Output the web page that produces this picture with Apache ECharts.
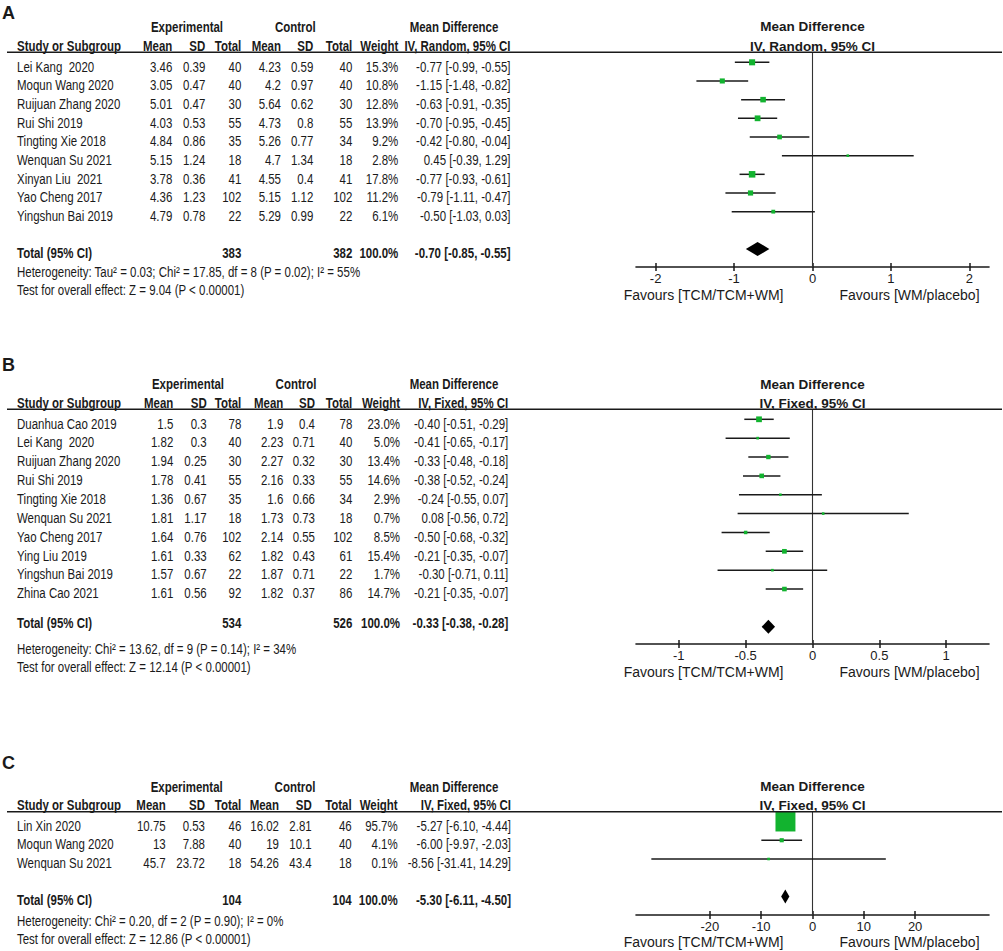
<!DOCTYPE html>
<html><head><meta charset="utf-8">
<script src="https://cdn.jsdelivr.net/npm/echarts@6/dist/echarts.min.js"></script>
<style>html,body{margin:0;padding:0;background:#fff}#c{width:1003px;height:951px}</style>
</head><body><div id="c"></div>
<script>
// ---------------- Panel A data ----------------
const studiesA = ['Lei Kang \u00a02020','Moqun Wang 2020','Ruijuan Zhang 2020','Rui Shi 2019','Tingting Xie 2018','Wenquan Su 2021','Xinyan Liu \u00a02021','Yao Cheng 2017','Yingshun Bai 2019'];
const expMeanA = [3.46,3.05,5.01,4.03,4.84,5.15,3.78,4.36,4.79];
const expSdA   = [0.39,0.47,0.47,0.53,0.86,1.24,0.36,1.23,0.78];
const expNA    = [40,40,30,55,35,18,41,102,22];
const ctlMeanA = [4.23,4.2,5.64,4.73,5.26,4.7,4.55,5.15,5.29];
const ctlSdA   = [0.59,0.97,0.62,0.8,0.77,1.34,0.4,1.12,0.99];
const ctlNA    = [40,40,30,55,34,18,41,102,22];
const weightA  = [15.3,10.8,12.8,13.9,9.2,2.8,17.8,11.2,6.1];
const mdA      = [-0.77,-1.15,-0.63,-0.70,-0.42,0.45,-0.77,-0.79,-0.50];
const loA      = [-0.99,-1.48,-0.91,-0.95,-0.80,-0.39,-0.93,-1.11,-1.03];
const hiA      = [-0.55,-0.82,-0.35,-0.45,-0.04,1.29,-0.61,-0.47,0.03];
const totalA   = {expN:383, ctlN:382, weight:100.0, md:-0.70, lo:-0.85, hi:-0.55};
const methodA  = 'IV, Random, 95% CI';
const heteroA  = 'Heterogeneity: Tau\u00b2 = 0.03; Chi\u00b2 = 17.85, df = 8 (P = 0.02); I\u00b2 = 55%';
const testA    = 'Test for overall effect: Z = 9.04 (P < 0.00001)';
const ticksA   = [-2,-1,0,1,2];

// ---------------- Panel B data ----------------
const studiesB = ['Duanhua Cao 2019','Lei Kang \u00a02020','Ruijuan Zhang 2020','Rui Shi 2019','Tingting Xie 2018','Wenquan Su 2021','Yao Cheng 2017','Ying Liu 2019','Yingshun Bai 2019','Zhina Cao 2021'];
const expMeanB = [1.5,1.82,1.94,1.78,1.36,1.81,1.64,1.61,1.57,1.61];
const expSdB   = [0.3,0.3,0.25,0.41,0.67,1.17,0.76,0.33,0.67,0.56];
const expNB    = [78,40,30,55,35,18,102,62,22,92];
const ctlMeanB = [1.9,2.23,2.27,2.16,1.6,1.73,2.14,1.82,1.87,1.82];
const ctlSdB   = [0.4,0.71,0.32,0.33,0.66,0.73,0.55,0.43,0.71,0.37];
const ctlNB    = [78,40,30,55,34,18,102,61,22,86];
const weightB  = [23.0,5.0,13.4,14.6,2.9,0.7,8.5,15.4,1.7,14.7];
const mdB      = [-0.40,-0.41,-0.33,-0.38,-0.24,0.08,-0.50,-0.21,-0.30,-0.21];
const loB      = [-0.51,-0.65,-0.48,-0.52,-0.55,-0.56,-0.68,-0.35,-0.71,-0.35];
const hiB      = [-0.29,-0.17,-0.18,-0.24,0.07,0.72,-0.32,-0.07,0.11,-0.07];
const totalB   = {expN:534, ctlN:526, weight:100.0, md:-0.33, lo:-0.38, hi:-0.28};
const methodB  = 'IV, Fixed, 95% CI';
const heteroB  = 'Heterogeneity: Chi\u00b2 = 13.62, df = 9 (P = 0.14); I\u00b2 = 34%';
const testB    = 'Test for overall effect: Z = 12.14 (P < 0.00001)';
const ticksB   = [-1,-0.5,0,0.5,1];

// ---------------- Panel C data ----------------
const studiesC = ['Lin Xin 2020','Moqun Wang 2020','Wenquan Su 2021'];
const expMeanC = [10.75,13,45.7];
const expSdC   = [0.53,7.88,23.72];
const expNC    = [46,40,18];
const ctlMeanC = [16.02,19,54.26];
const ctlSdC   = [2.81,10.1,43.4];
const ctlNC    = [46,40,18];
const weightC  = [95.7,4.1,0.1];
const mdC      = [-5.27,-6.00,-8.56];
const loC      = [-6.10,-9.97,-31.41];
const hiC      = [-4.44,-2.03,14.29];
const totalC   = {expN:104, ctlN:104, weight:100.0, md:-5.30, lo:-6.11, hi:-4.50};
const methodC  = 'IV, Fixed, 95% CI';
const heteroC  = 'Heterogeneity: Chi\u00b2 = 0.20, df = 2 (P = 0.90); I\u00b2 = 0%';
const testC    = 'Test for overall effect: Z = 12.86 (P < 0.00001)';
const ticksC   = [-20,-10,0,10,20];

const favLeft  = 'Favours [TCM/TCM+WM]';
const favRight = 'Favours [WM/placebo]';
</script>
<script>
// ---------- font handling ----------
function fontAvailable(name){
  const ctx = document.createElement('canvas').getContext('2d');
  const s = 'abcdefghijklmnopqrstuvwxyz0123456789WMi';
  return ['monospace','serif'].every(function(fb){
    ctx.font = '32px ' + fb; const a = ctx.measureText(s).width;
    ctx.font = '32px "' + name + '", ' + fb; const b = ctx.measureText(s).width;
    return a !== b;
  });
}
const NARROW_OK = fontAvailable('Liberation Sans Narrow');
const WF = '"Liberation Sans", Arial, sans-serif';
const NF = NARROW_OK ? '"Liberation Sans Narrow", "Arial Narrow", sans-serif' : WF;
const NSX = NARROW_OK ? 1 : 0.82;
const INK = '#1a1a1a';
const GREEN = '#12b32f';

// ---------- panel assembly ----------
const panels = [
  { label:'A', studies:studiesA, expMean:expMeanA, expSd:expSdA, expN:expNA, ctlMean:ctlMeanA, ctlSd:ctlSdA, ctlN:ctlNA,
    weight:weightA, md:mdA, lo:loA, hi:hiA, total:totalA, method:methodA, hetero:heteroA, test:testA, ticks:ticksA },
  { label:'B', studies:studiesB, expMean:expMeanB, expSd:expSdB, expN:expNB, ctlMean:ctlMeanB, ctlSd:ctlSdB, ctlN:ctlNB,
    weight:weightB, md:mdB, lo:loB, hi:hiB, total:totalB, method:methodB, hetero:heteroB, test:testB, ticks:ticksB },
  { label:'C', studies:studiesC, expMean:expMeanC, expSd:expSdC, expN:expNC, ctlMean:ctlMeanC, ctlSd:ctlSdC, ctlN:ctlNC,
    weight:weightC, md:mdC, lo:loC, hi:hiC, total:totalC, method:methodC, hetero:heteroC, test:testC, ticks:ticksC }
];
// layout (pixel positions) per panel
const layouts = [
  { labelY:13.3, h1:26.7, h2:46.2, line:52.3, mRow0:62.3, mStep:18.67, totalY:252.7, hetY:272.3, testY:290, axisY:267, favY:295,
    min:-2.25, max:2.25, k:1.55, cols:[172.3,205.3,241.3,281,313.3,352.3,398.3,510.5], expX:187, ctlX:295.3, mdX:454 },
  { labelY:365, h1:384, h2:403.3, line:409.3, mRow0:419.3, mStep:18.86, totalY:623.3, hetY:649, testY:667.3, axisY:644, favY:671.7,
    min:-1.32, max:1.32, k:1.2, cols:[173.3,206.7,241.3,283.3,315,352.3,400,508.3], expX:188, ctlX:296, mdX:454 },
  { labelY:763.3, h1:786.7, h2:805, line:811.7, mRow0:821.5, mStep:18.75, totalY:900, hetY:921, testY:939, axisY:915, favY:941.7,
    min:-34.4, max:34.4, k:2.04, cols:[165.7,205,241.3,279,311.7,351.7,397.7,511], expX:186.7, ctlX:295, mdX:454 }
];
const GRID_LEFT = 636, GRID_W = 353, TXT_OFF = 4.3, NAME_X = 17;

function txt(x, y, text, o){
  o = o || {};
  return { type:'text', x:x, y:y, scaleX: o.wide ? 1 : NSX, silent:true, z:10,
    style:{ text:text, x:0, y:0, fill:INK, fontSize:o.size || 14, fontWeight:o.bold ? 'bold' : 'normal',
      fontFamily:o.wide ? WF : NF, align:o.align || 'left', verticalAlign:'middle' } };
}
const f2 = v => v.toFixed(2);
const ciText = (m,l,h) => f2(m) + ' [' + f2(l) + ', ' + f2(h) + ']';

const graphics = [];
const grids = [], xAxes = [], yAxes = [], series = [];

panels.forEach(function(P, i){
  const L = layouts[i];
  const zeroX = GRID_LEFT + (0 - L.min) / (L.max - L.min) * GRID_W;
  const n = P.studies.length;
  const c = L.cols;
  // labels & headers
  graphics.push(txt(2, L.labelY, P.label, {wide:true, bold:true, size:18}));
  graphics.push(txt(L.expX, L.h1, 'Experimental', {bold:true, align:'center'}));
  graphics.push(txt(L.ctlX, L.h1, 'Control', {bold:true, align:'center'}));
  graphics.push(txt(L.mdX, L.h1, 'Mean Difference', {bold:true, align:'center'}));
  graphics.push(txt(zeroX, L.h1, 'Mean Difference', {bold:true, wide:true, size:13.5, align:'center'}));
  graphics.push(txt(NAME_X, L.h2, 'Study or Subgroup', {bold:true}));
  ['Mean','SD','Total','Mean','SD','Total','Weight',P.method].forEach(function(h, j){
    graphics.push(txt(c[j], L.h2, h, {bold:true, align:'right'}));
  });
  graphics.push(txt(zeroX, L.h2, P.method, {bold:true, wide:true, size:13.5, align:'center'}));
  graphics.push({ type:'line', silent:true, z:9, shape:{x1:7, y1:L.line, x2:1002, y2:L.line},
    style:{stroke:INK, lineWidth:1.6} });
  // study rows
  for (let j = 0; j < n; j++){
    const y = L.mRow0 + j * L.mStep + TXT_OFF;
    graphics.push(txt(NAME_X, y, P.studies[j]));
    const vals = [String(P.expMean[j]), String(P.expSd[j]), String(P.expN[j]), String(P.ctlMean[j]), String(P.ctlSd[j]),
                  String(P.ctlN[j]), P.weight[j].toFixed(1) + '%', ciText(P.md[j], P.lo[j], P.hi[j])];
    vals.forEach(function(v, k){ graphics.push(txt(c[k], y, v, {align:'right'})); });
  }
  // total row
  const T = P.total;
  graphics.push(txt(NAME_X, L.totalY, 'Total (95% CI)', {bold:true}));
  graphics.push(txt(c[2], L.totalY, String(T.expN), {bold:true, align:'right'}));
  graphics.push(txt(c[5], L.totalY, String(T.ctlN), {bold:true, align:'right'}));
  graphics.push(txt(c[6], L.totalY, T.weight.toFixed(1) + '%', {bold:true, align:'right'}));
  graphics.push(txt(c[7], L.totalY, ciText(T.md, T.lo, T.hi), {bold:true, align:'right'}));
  graphics.push(txt(NAME_X, L.hetY, P.hetero));
  graphics.push(txt(NAME_X, L.testY, P.test));
  graphics.push(txt(zeroX - 29, L.favY, favLeft, {wide:true, align:'right'}));
  graphics.push(txt(zeroX + 27, L.favY, favRight, {wide:true}));

  // plot area
  grids.push({ left:GRID_LEFT, width:GRID_W, top:L.line, height:L.axisY - L.line, containLabel:false });
  const axisCommon = { gridIndex:i, type:'value', min:L.min, max:L.max, position:'bottom', splitLine:{show:false} };
  xAxes.push(Object.assign({}, axisCommon, {
    axisLine:{show:true, onZero:false, lineStyle:{color:INK, width:1.6}},
    axisTick:{show:true, length:4, customValues:P.ticks, lineStyle:{color:INK, width:1.5}},
    axisLabel:{show:true, customValues:P.ticks, margin:5, fontSize:13, color:INK, fontFamily:WF,
      formatter: v => String(v)}
  }));
  xAxes.push(Object.assign({}, axisCommon, {
    axisLine:{show:false, onZero:false},
    axisTick:{show:true, inside:true, length:4, customValues:P.ticks, lineStyle:{color:INK, width:1.5}},
    axisLabel:{show:false}
  }));
  yAxes.push({ gridIndex:i, type:'value', inverse:true, show:false,
    min:(L.line - L.mRow0) / L.mStep, max:(L.axisY - L.mRow0) / L.mStep });

  const studyData = P.studies.map((s, j) => [P.md[j], P.lo[j], P.hi[j], P.weight[j], j]);
  series.push({
    type:'custom', name:P.label + ' studies', xAxisIndex:2 * i, yAxisIndex:i, clip:false, z:5,
    encode:{x:[0,1,2], y:4},
    data:studyData,
    renderItem: function(params, api){
      const md = api.value(0), lo = api.value(1), hi = api.value(2), w = api.value(3), row = api.value(4);
      const pl = api.coord([lo, row]), ph = api.coord([hi, row]), pm = api.coord([md, row]);
      const s = Math.max(2.6, L.k * Math.sqrt(w));
      return { type:'group', children:[
        { type:'line', shape:{x1:pl[0], y1:pl[1], x2:ph[0], y2:ph[1]}, style:{stroke:INK, lineWidth:1.5} },
        { type:'rect', shape:{x:pm[0] - s / 2, y:pm[1] - s / 2, width:s, height:s}, style:{fill:GREEN} }
      ]};
    },
    markLine:{ silent:true, symbol:'none', label:{show:false}, animation:false,
      lineStyle:{color:'#333', width:1.1, type:'solid'}, data:[{xAxis:0}] }
  });
  series.push({
    type:'custom', name:P.label + ' total', xAxisIndex:2 * i, yAxisIndex:i, clip:false, z:6,
    encode:{x:[0,1,2], y:3},
    data:[[T.md, T.lo, T.hi, n + 1]],
    renderItem: function(params, api){
      const md = api.value(0), lo = api.value(1), hi = api.value(2), row = api.value(3);
      const pl = api.coord([lo, row]), ph = api.coord([hi, row]), pm = api.coord([md, row]);
      const hh = 7;
      return { type:'polygon', shape:{points:[[pl[0], pl[1]], [pm[0], pm[1] - hh], [ph[0], ph[1]], [pm[0], pm[1] + hh]]},
        style:{fill:'#000'} };
    }
  });
});

const chart = echarts.init(document.getElementById('c'), null, {renderer:'svg', width:1003, height:951});
chart.setOption({
  animation:false,
  backgroundColor:'#fff',
  grid:grids, xAxis:xAxes, yAxis:yAxes, series:series,
  graphic:{elements:graphics}
});
</script>
</body></html>
